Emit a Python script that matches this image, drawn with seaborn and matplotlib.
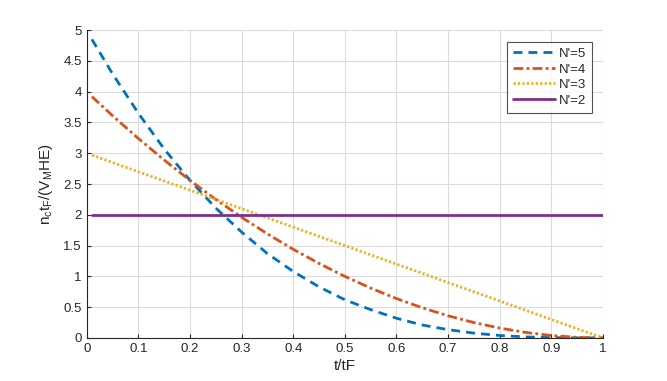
import pandas as pd
import matplotlib.pyplot as plt
import seaborn as sns

sns.set_theme(style="white")
plt.rcParams['font.family'] = ['Liberation Sans', 'DejaVu Sans']

# values
t = [0.01, 0.05, 0.1, 0.15, 0.2, 0.25, 0.3, 0.35, 0.4, 0.45, 0.5,
     0.55, 0.6, 0.65, 0.7, 0.75, 0.8, 0.85, 0.9, 0.95, 1.0]
n5 = [4.85, 4.29, 3.65, 3.07, 2.56, 2.11, 1.72, 1.37, 1.08, 0.83, 0.62,
      0.46, 0.32, 0.21, 0.135, 0.078, 0.04, 0.017, 0.005, 0.0006, 0.0]
n4 = [3.92, 3.61, 3.24, 2.89, 2.56, 2.25, 1.96, 1.69, 1.44, 1.21, 1.0,
      0.81, 0.64, 0.49, 0.36, 0.25, 0.16, 0.09, 0.04, 0.01, 0.0]
n3 = [2.97, 2.85, 2.7, 2.55, 2.4, 2.25, 2.1, 1.95, 1.8, 1.65, 1.5,
      1.35, 1.2, 1.05, 0.9, 0.75, 0.6, 0.45, 0.3, 0.15, 0.0]
n2 = [2.0] * len(t)

labels = ["N'=5", "N'=4", "N'=3", "N'=2"]
series = [n5, n4, n3, n2]
colors = ['#0072BD', '#D95319', '#EDB120', '#7E2F8E']
styles = [(0, (3.2, 2.2)), (0, (3.5, 1.2, 1, 1.2)), (0, (0.8, 0.8)), '-']

df = pd.DataFrame({'t': t * 4,
                   'v': n5 + n4 + n3 + n2,
                   'N': sum([[lab] * len(t) for lab in labels], [])})

fig = plt.figure(figsize=(6.67, 3.81), dpi=100)
ax = fig.add_axes([0.130, 0.113, 0.774, 0.808])

for lab, col, ls in zip(labels, colors, styles):
    sub = df[df['N'] == lab]
    sns.lineplot(data=sub, x='t', y='v', ax=ax, color=col, linewidth=2,
                 label=lab, linestyle=ls)

ax.set_xlim(0, 1)
ax.set_ylim(0, 5)
ax.set_xticks([i / 10 for i in range(11)])
ax.set_xticklabels(['0', '0.1', '0.2', '0.3', '0.4', '0.5', '0.6', '0.7', '0.8', '0.9', '1'])
ax.set_yticks([i / 2 for i in range(11)])
ax.set_yticklabels(['0', '0.5', '1', '1.5', '2', '2.5', '3', '3.5', '4', '4.5', '5'])
ax.grid(True, color='#dcdcdc', linewidth=0.8)
ax.tick_params(direction='in', length=3, width=0.8, colors='#262626',
               labelsize=9.5, left=True, bottom=True)
for s in ['top', 'right']:
    ax.spines[s].set_visible(False)
for s in ['left', 'bottom']:
    ax.spines[s].set_color('#262626')
    ax.spines[s].set_linewidth(0.8)

ax.set_xlabel('t/tF', fontsize=11, color='#262626', labelpad=3)
ax.set_ylabel(r'$\mathregular{n_c t_F/(V_M HE)}$', fontsize=11, color='#262626', labelpad=6)

leg = ax.legend(loc='upper right', bbox_to_anchor=(0.978, 0.962), fontsize=9.5,
                frameon=True, fancybox=False, edgecolor='#262626',
                handlelength=3.2, borderpad=0.45, labelspacing=0.25, handletextpad=0.25,
                borderaxespad=0)
leg.get_frame().set_linewidth(0.8)

fig.savefig('out.png', dpi=100)
